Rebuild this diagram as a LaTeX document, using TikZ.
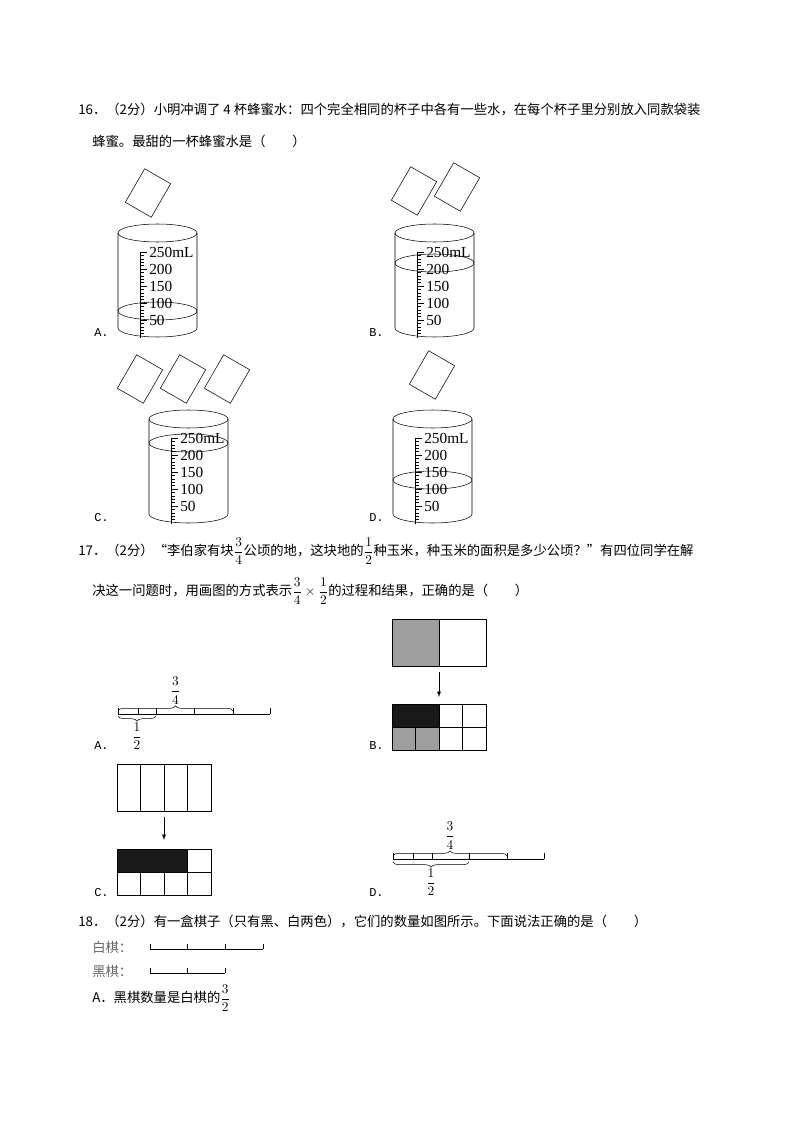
\documentclass[tikz,border=0pt]{standalone}
\usepackage{amsmath}
\usepackage{fontspec}
\setmainfont{Liberation Serif}
\setmonofont{Liberation Mono}
\newfontfamily\cjk{Noto Sans CJK SC}
\usetikzlibrary{decorations.pathreplacing}

\tikzset{
  bag/.style={draw,minimum width=22.5pt,minimum height=29pt,inner sep=0pt,rotate=-30},
  opt/.style={anchor=west,font=\ttfamily\small,inner sep=0pt},
  qtext/.style={anchor=west,font=\cjk\fontsize{10}{12}\selectfont,inner sep=0pt},
  scalelbl/.style={anchor=west,font=\fontsize{11.5}{12}\selectfont,inner sep=0pt},
  fraclbl/.style={font=\fontsize{10}{11}\selectfont,inner sep=1pt},
  upbrace/.style={decorate,decoration={brace,amplitude=4pt}},
  lowbrace/.style={decorate,decoration={brace,amplitude=4pt,mirror}}
}

% beaker: left x, top y, water level
\newcommand{\beaker}[3]{%
  \begin{scope}[shift={(#1,#2)}]
    \draw (39.5,0) ellipse[x radius=39.5,y radius=9];
    \draw (0,0) -- (0,95) arc[start angle=180,end angle=0,x radius=39.5,y radius=9] -- (79,0);
    \draw (39.5,#3) ellipse[x radius=39.5,y radius=9];
    \draw (22,19) -- (22,105);
    \foreach \k in {1,...,25}{
      \pgfmathsetmacro{\ty}{104-3.4*\k}
      \ifnum\numexpr\k-5*(\k/5)\relax=0
        \draw (22,\ty) -- (29,\ty);
      \else
        \draw (22,\ty) -- (26,\ty);
      \fi
    }
    \node[scalelbl] at (31,19) {250mL};
    \node[scalelbl] at (31,36) {200};
    \node[scalelbl] at (31,53) {150};
    \node[scalelbl] at (31,70) {100};
    \node[scalelbl] at (31,87) {50};
  \end{scope}}

\begin{document}
\begin{tikzpicture}[x=0.75pt,y=-0.75pt]
  \useasboundingbox[fill=white] (0,0) rectangle (794,1123);

  % question 16
  \node[qtext] (q16a) at (78,110) {16．（2分）小明冲调了 4 杯蜂蜜水：四个完全相同的杯子中各有一些水，在每个杯子里分别放入同款袋装};
  \node[qtext] (q16b) at (92,141) {蜂蜜。最甜的一杯蜂蜜水是（\quad\quad）};

  \beaker{118}{233}{78}
  \node[bag] (bagA) at (148,193) {};
  \node[opt] (optA) at (94,333) {A.};

  \beaker{395}{233}{30}
  \node[bag] (bagB1) at (414,191) {};
  \node[bag] (bagB2) at (457,187) {};
  \node[opt] (optB) at (369,333) {B.};

  \beaker{149}{419}{24}
  \node[bag] (bagC1) at (140,379) {};
  \node[bag] (bagC2) at (183,379) {};
  \node[bag] (bagC3) at (227,379) {};
  \node[opt] (optC) at (94,518) {C.};

  \beaker{393}{419}{61}
  \node[bag] (bagD) at (432,375) {};
  \node[opt] (optD) at (369,518) {D.};

  % question 17
  \node[qtext] (q17a) at (78,551) {17．（2分）“李伯家有块$\dfrac34$公顷的地，这块地的$\dfrac12$种玉米，种玉米的面积是多少公顷？”有四位同学在解};
  \node[qtext] (q17b) at (92,591) {决这一问题时，用画图的方式表示$\dfrac34\times\dfrac12$的过程和结果，正确的是（\quad\quad）};

  % A: number line
  \draw (118,714) -- (270,714);
  \foreach \x in {118,138,156,194,233,270} \draw (\x,714) -- (\x,708);
  \draw[upbrace] (118,711) -- (233,711) node[midway,above=4pt,fraclbl] (fa34) {$\dfrac34$};
  \draw[lowbrace] (118,716) -- (156,716) node[midway,below=4pt,fraclbl] (fa12) {$\dfrac12$};
  \node[opt] (optA2) at (94,746) {A.};

  % B: two rectangles
  \fill[gray!75] (392,619) rectangle (439,666);
  \draw (392,619) rectangle (486,666);
  \draw (439,619) -- (439,666);
  \coordinate (bt) at (439,672);
  \coordinate (bb) at (439,697);
  \draw[-latex] (bt) -- (bb);
  \fill[black!90] (392,704) rectangle (439,727);
  \fill[gray!75] (392,727) rectangle (439,750);
  \draw (392,704) rectangle (486,750);
  \draw (392,727) -- (486,727);
  \foreach \x in {439,462} \draw (\x,704) -- (\x,750);
  \draw (415,727) -- (415,750);
  \node[opt] (optB2) at (369,746) {B.};

  % C: two rectangles
  \draw (117,764) rectangle (211,811);
  \foreach \x in {140.5,164,187.5} \draw (\x,764) -- (\x,811);
  \coordinate (ct) at (164,817);
  \coordinate (cb) at (164,840);
  \draw[-latex] (ct) -- (cb);
  \fill[black!90] (117,849) rectangle (187.5,872);
  \draw (117,849) rectangle (211,895);
  \draw (117,872) -- (211,872);
  \foreach \x in {140.5,164} \draw (\x,872) -- (\x,895);
  \draw (187.5,849) -- (187.5,895);
  \node[opt] (optC2) at (94,893) {C.};

  % D: number line
  \draw (393,859) -- (544,859);
  \foreach \x in {393,413,432,469,507,544} \draw (\x,859) -- (\x,853);
  \draw[upbrace] (393,856) -- (507,856) node[midway,above=4pt,fraclbl] (fd34) {$\dfrac34$};
  \draw[lowbrace] (393,862) -- (469,862) node[midway,below=4pt,fraclbl] (fd12) {$\dfrac12$};
  \node[opt] (optD2) at (369,893) {D.};

  % question 18
  \node[qtext] (q18) at (78,921) {18．（2分）有一盒棋子（只有黑、白两色），它们的数量如图所示。下面说法正确的是（\quad\quad）};
  \node[qtext,text=gray!80!black] (white) at (92,947) {白棋：};
  \draw (150,949) -- (263,949);
  \foreach \x in {150,187,225,263} \draw (\x,949) -- (\x,944);
  \node[qtext,text=gray!80!black] (black) at (92,971) {黑棋：};
  \draw (150,973) -- (225,973);
  \foreach \x in {150,187,225} \draw (\x,973) -- (\x,968);
  \node[qtext] (q18a) at (92,998) {A．黑棋数量是白棋的$\dfrac32$};
\end{tikzpicture}
\end{document}
